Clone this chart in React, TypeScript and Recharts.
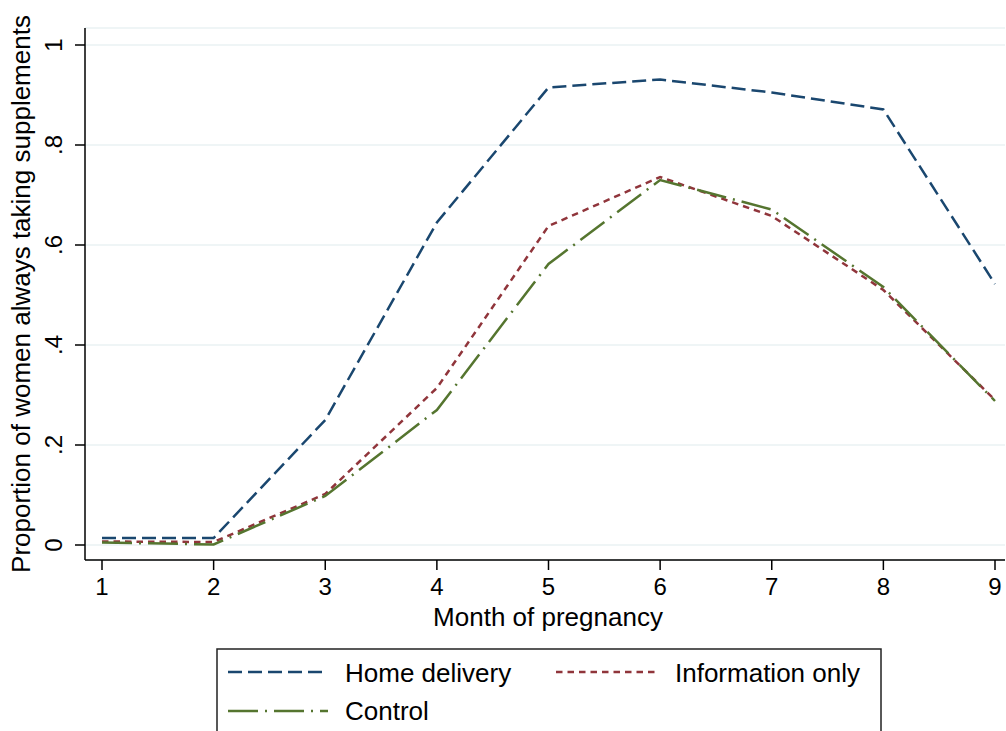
import React from 'react';
import { LineChart, Line, XAxis, YAxis, CartesianGrid } from 'recharts';

const months = [1, 2, 3, 4, 5, 6, 7, 8, 9];
const homeDelivery = [0.014, 0.014, 0.25, 0.645, 0.915, 0.931, 0.905, 0.871, 0.522];
const informationOnly = [0.007, 0.006, 0.102, 0.314, 0.638, 0.736, 0.658, 0.51, 0.29];
const control = [0.005, 0.001, 0.098, 0.27, 0.562, 0.73, 0.671, 0.516, 0.288];
const yTicks = [0, 0.2, 0.4, 0.6, 0.8, 1];
const yTickLabels = ['0', '.2', '.4', '.6', '.8', '1'];

const seriesNames = ['Home delivery', 'Information only', 'Control'];
const BLUE = '#1a476f';
const RED = '#90353b';
const GREEN = '#55752f';
const DASH_BLUE = '14 6';
const DASH_RED = '6.5 5';
const DASH_GREEN = '30 7 2 7';
const FONT = '"Liberation Sans", Arial, Helvetica, sans-serif';

const data = months.map((m, i) => ({
  month: m,
  home: homeDelivery[i],
  info: informationOnly[i],
  control: control[i],
}));

const YTick = (props: any) => {
  const { x, y, payload } = props;
  const idx = yTicks.indexOf(payload.value);
  const label = idx >= 0 ? yTickLabels[idx] : String(payload.value);
  return (
    <text
      x={x}
      y={y}
      transform={`rotate(-90, ${x}, ${y})`}
      textAnchor="middle"
      fontSize={24}
      fontFamily={FONT}
      fill="#000"
    >
      {label}
    </text>
  );
};

export default function App() {
  return (
    <div style={{ position: 'absolute', left: 0, top: 0, width: 1006, height: 731, background: '#fff', overflow: 'hidden' }}>
      <LineChart
        width={1006}
        height={731}
        data={data}
        margin={{ top: 28, right: 1, left: 0, bottom: 121 }}
      >
        <CartesianGrid vertical={false} stroke="#eaf2f3" strokeWidth={1.5} />
        <XAxis
          dataKey="month"
          type="number"
          domain={[1, 9]}
          ticks={months}
          padding={{ left: 17, right: 10 }}
          height={50}
          tickSize={10}
          tickMargin={8}
          stroke="#000"
          strokeWidth={1.5}
          tick={{ fill: '#000', fontSize: 24, fontFamily: FONT }}
          tickLine={{ stroke: '#000', strokeWidth: 1.5 }}
          axisLine={{ stroke: '#000', strokeWidth: 1.5 }}
        />
        <YAxis
          type="number"
          domain={[0, 1]}
          ticks={yTicks}
          padding={{ top: 17, bottom: 15 }}
          width={85}
          tickSize={10}
          tickMargin={13}
          tick={<YTick />}
          tickLine={{ stroke: '#000', strokeWidth: 1.5 }}
          axisLine={{ stroke: '#000', strokeWidth: 1.5 }}
        />
        <Line
          type="linear"
          dataKey="home"
          name={seriesNames[0]}
          stroke={BLUE}
          strokeWidth={2.5}
          strokeDasharray={DASH_BLUE}
          dot={false}
          activeDot={false}
          isAnimationActive={false}
        />
        <Line
          type="linear"
          dataKey="info"
          name={seriesNames[1]}
          stroke={RED}
          strokeWidth={2.5}
          strokeDasharray={DASH_RED}
          dot={false}
          activeDot={false}
          isAnimationActive={false}
        />
        <Line
          type="linear"
          dataKey="control"
          name={seriesNames[2]}
          stroke={GREEN}
          strokeWidth={2.5}
          strokeDasharray={DASH_GREEN}
          dot={false}
          activeDot={false}
          isAnimationActive={false}
        />
      </LineChart>
      <svg
        width={1006}
        height={731}
        style={{ position: 'absolute', left: 0, top: 0, pointerEvents: 'none' }}
      >
        <text
          x={30}
          y={294}
          transform="rotate(-90, 30, 294)"
          textAnchor="middle"
          fontSize={26}
          fontFamily={FONT}
          fill="#000"
        >
          Proportion of women always taking supplements
        </text>
        <text x={548} y={626} textAnchor="middle" fontSize={26} fontFamily={FONT} fill="#000">
          Month of pregnancy
        </text>
        <rect x={217} y={649} width={664} height={120} fill="#fff" stroke="#222" strokeWidth={1.5} />
        <line x1={228} y1={672} x2={328} y2={672} stroke={BLUE} strokeWidth={2.5} strokeDasharray={DASH_BLUE} />
        <text x={345} y={682} fontSize={26} fontFamily={FONT} fill="#000">{seriesNames[0]}</text>
        <line x1={556} y1={672} x2={657} y2={672} stroke={RED} strokeWidth={2.5} strokeDasharray={DASH_RED} />
        <text x={675} y={682} fontSize={26} fontFamily={FONT} fill="#000">{seriesNames[1]}</text>
        <line x1={228} y1={711} x2={328} y2={711} stroke={GREEN} strokeWidth={2.5} strokeDasharray={DASH_GREEN} />
        <text x={345} y={720} fontSize={26} fontFamily={FONT} fill="#000">{seriesNames[2]}</text>
      </svg>
    </div>
  );
}
